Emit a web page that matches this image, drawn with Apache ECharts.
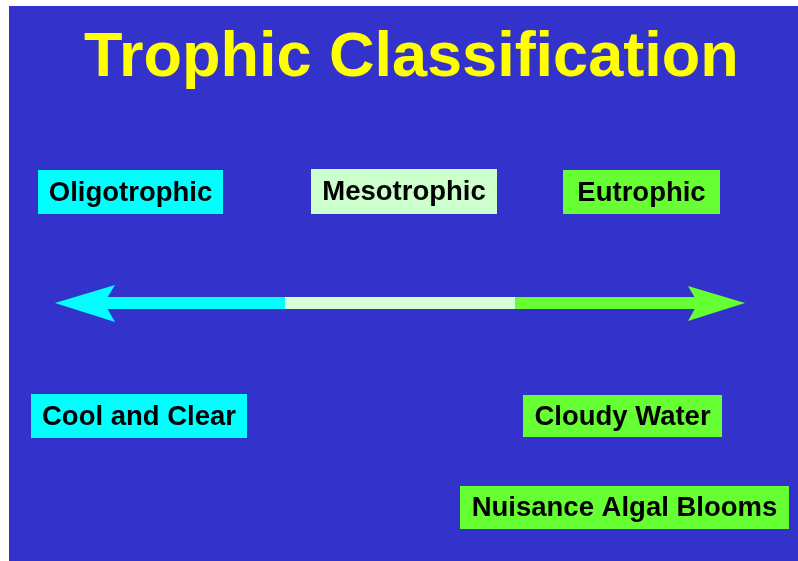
<!DOCTYPE html>
<html>
<head>
    <meta charset="utf-8">
    <title>Trophic Classification</title>
    <script src="https://cdn.jsdelivr.net/npm/echarts@6/dist/echarts.min.js"></script>
    <style>
        body { margin: 0; background: #fff; }
        #main { width: 798px; height: 561px; }
    </style>
</head>
<body>
<div id="main"></div>
<script>
    // trophic classes along the arrow, left to right
    var classes = ['Oligotrophic', 'Mesotrophic', 'Eutrophic'];
    // lake characteristics and the class each one belongs to
    var traits = ['Cool and Clear', 'Cloudy Water', 'Nuisance Algal Blooms'];
    var traitClass = ['Oligotrophic', 'Eutrophic', 'Eutrophic'];

    // layout (pixel units of the hidden axes)
    var classBoxes = [[38, 170, 223, 214], [311, 169, 497, 214], [563, 170, 720, 214]];
    var traitBoxes = [[31, 394, 247, 438], [523, 395, 722, 437], [460, 486, 789, 529]];
    var arrowL = 55, arrowR = 745, arrowY = 303, shaftH = 12;

    var boxColor = { Oligotrophic: '#00FFFF', Mesotrophic: '#CCFFCC', Eutrophic: '#66FF33' };
    var shaftColor = { Oligotrophic: '#00FFFF', Mesotrophic: '#D8FFD8', Eutrophic: '#66FF33' };
    var labelFont = 'bold 27.5px "Liberation Sans", Arial, sans-serif';

    var boxes = [];
    classes.forEach(function (c, i) { boxes.push({ text: c, cls: c, box: classBoxes[i] }); });
    traits.forEach(function (t, i) { boxes.push({ text: t, cls: traitClass[i], box: traitBoxes[i] }); });

    function boxItem(params, api) {
        var b = boxes[params.dataIndex];
        var p0 = api.coord([b.box[0], b.box[1]]);
        var p1 = api.coord([b.box[2], b.box[3]]);
        return {
            type: 'group',
            children: [{
                type: 'rect',
                shape: { x: p0[0], y: p0[1], width: p1[0] - p0[0], height: p1[1] - p0[1] },
                style: { fill: boxColor[b.cls] }
            }, {
                type: 'text',
                style: {
                    text: b.text, x: (p0[0] + p1[0]) / 2, y: (p0[1] + p1[1]) / 2 + 1,
                    align: 'center', verticalAlign: 'middle',
                    font: labelFont, fill: '#000'
                }
            }]
        };
    }

    function arrowItem(params, api) {
        var i = params.dataIndex;
        var step = (arrowR - arrowL) / classes.length;
        var x0 = arrowL + i * step, x1 = x0 + step;
        var color = shaftColor[classes[i]];
        var a = api.coord([x0, arrowY - shaftH / 2]);
        var b = api.coord([x1, arrowY + shaftH / 2]);
        var children = [];
        if (i === 0) a = api.coord([arrowL + 47, arrowY - shaftH / 2]);
        if (i === classes.length - 1) b = api.coord([arrowR - 45, arrowY + shaftH / 2]);
        children.push({
            type: 'rect',
            shape: { x: a[0], y: a[1], width: b[0] - a[0], height: b[1] - a[1] },
            style: { fill: color }
        });
        if (i === 0) {
            children.push({
                type: 'polygon',
                shape: { points: [[arrowL, arrowY], [arrowL + 60, arrowY - 18], [arrowL + 49, arrowY], [arrowL + 60, arrowY + 19]].map(api.coord) },
                style: { fill: color }
            });
        }
        if (i === classes.length - 1) {
            children.push({
                type: 'polygon',
                shape: { points: [[arrowR, arrowY], [arrowR - 57, arrowY - 17], [arrowR - 47, arrowY], [arrowR - 57, arrowY + 18]].map(api.coord) },
                style: { fill: color }
            });
        }
        return { type: 'group', children: children };
    }

    var myChart = echarts.init(document.getElementById('main'));
    var option = {
        animation: false,
        backgroundColor: '#fff',
        title: {
            text: 'Trophic Classification',
            left: 84, top: 27, padding: 0,
            textStyle: {
                color: '#FFFF00', fontSize: 63, fontWeight: 'bold',
                fontFamily: '"Liberation Sans", Arial, sans-serif', lineHeight: 63
            }
        },
        grid: {
            left: 9, top: 6, right: 0, bottom: 0,
            show: true, backgroundColor: '#3333CC', borderWidth: 0
        },
        xAxis: { type: 'value', min: 9, max: 798, show: false },
        yAxis: { type: 'value', min: 6, max: 561, inverse: true, show: false },
        series: [{
            type: 'custom',
            renderItem: arrowItem,
            data: classes.map(function (c, i) { return [i]; })
        }, {
            type: 'custom',
            renderItem: boxItem,
            data: boxes.map(function (b, i) { return [i]; })
        }]
    };
    myChart.setOption(option);
</script>
</body>
</html>
